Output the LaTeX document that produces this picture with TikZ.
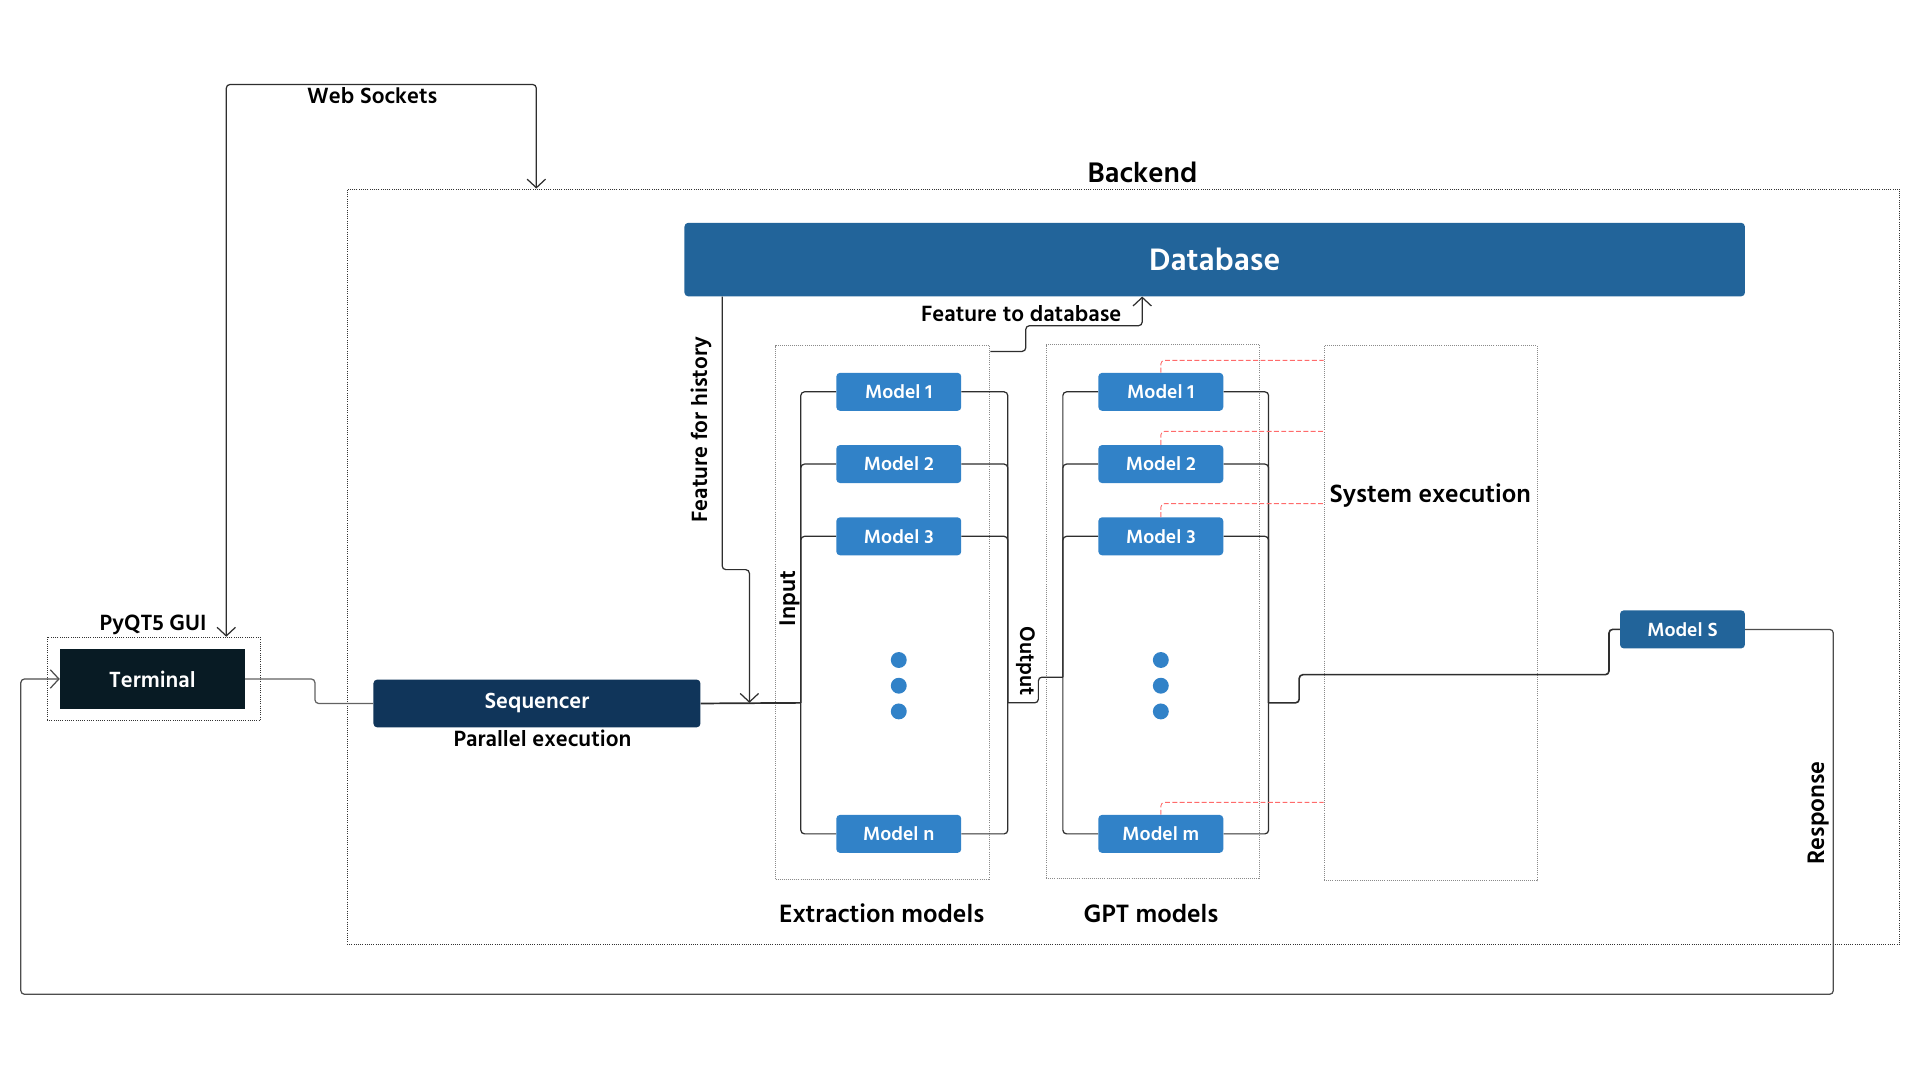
\documentclass[tikz,border=0pt]{standalone}
\usepackage{fontspec}
\setmainfont{Hind Madurai}
\usetikzlibrary{arrows.meta,calc}
\definecolor{lineC}{HTML}{2E2E2E}
\definecolor{termC}{HTML}{081B24}
\definecolor{seqC}{HTML}{10355A}
\definecolor{dbC}{HTML}{22649A}
\definecolor{modC}{HTML}{3182C8}
\definecolor{redC}{HTML}{FF6B6B}
\definecolor{frameC}{HTML}{8A8A8A}
\newcommand{\fsz}[1]{\bfseries\fontsize{#1}{#1}\selectfont}
\tikzset{
  modelbox/.style={rectangle, rounded corners=3pt, fill=modC, text=white,
    font=\fsz{16}, minimum width=102pt, minimum height=31pt, inner sep=0pt},
  framebox/.style={rectangle, draw=frameC, densely dotted, line width=0.7pt, anchor=north west, inner sep=0pt},
  conn/.style={draw=lineC, line width=1pt, rounded corners=3pt},
  tip/.style={-{Straight Barb[length=7pt,width=15pt,line width=1pt]}},
  tips/.style={{Straight Barb[length=7pt,width=15pt,line width=1pt]}-{Straight Barb[length=7pt,width=15pt,line width=1pt]}},
  lbl/.style={font=\fsz{18.5}, text=black, inner sep=0pt},
  reddash/.style={draw=redC, dashed, dash pattern=on 4pt off 2pt, line width=0.7pt, rounded corners=3pt},
  dot/.style={circle, fill=modC, minimum size=13pt, inner sep=0pt}
}
\begin{document}
\begin{tikzpicture}[x=1pt,y=-1pt]
\useasboundingbox (0,0) rectangle (1568,882);
\fill[white] (0,0) rectangle (1568,882);

% frames
\node[framebox, draw=black!80, line width=0.8pt, minimum width=1268pt, minimum height=617pt] (backend) at (283,154) {};
\node[lbl, font=\fsz{23.7}] (backendl) at (933,141) {Backend};
\node[framebox, draw=black!80, line width=0.8pt, minimum width=174pt, minimum height=68pt] (gui) at (38,520) {};
\node[lbl] (guil) at (125,510) {PyQT5 GUI};
\node[framebox, minimum width=175pt, minimum height=436pt] (extr) at (633,282) {};
\node[framebox, minimum width=174pt, minimum height=436pt] (gpt) at (854,281) {};
\node[framebox, minimum width=174pt, minimum height=437pt] (sys) at (1081,282) {};
\node[lbl, font=\fsz{21}] (sysl) at (1168,405) {System execution};
\node[lbl, font=\fsz{21}] (extrl) at (720,746) {Extraction models};
\node[lbl, font=\fsz{21}] (gptl) at (940,746) {GPT models};

% main boxes
\node[rectangle, fill=termC, text=white, font=\fsz{18.4},
  minimum width=151pt, minimum height=49pt, inner sep=0pt] (term) at (124.5,554.5) {Terminal};
\node[rectangle, rounded corners=3pt, fill=seqC, text=white, font=\fsz{18.4},
  minimum width=267pt, minimum height=39pt, inner sep=0pt] (seq) at (438.5,574.5) {Sequencer};
\node[lbl] (parl) at (443,603) {Parallel execution};
\node[rectangle, rounded corners=3pt, fill=dbC, text=white, font=\fsz{26},
  minimum width=866pt, minimum height=60pt, inner sep=0pt] (db) at (992,212) {Database};

% extraction models
\node[modelbox] (e1) at (734,320) {Model 1};
\node[modelbox] (e2) at (734,379) {Model 2};
\node[modelbox] (e3) at (734,438) {Model 3};
\node[modelbox] (en) at (734,681) {Model n};
\node[dot] (ed1) at (734,539) {};
\node[dot] (ed2) at (734,560) {};
\node[dot] (ed3) at (734,581) {};

% gpt models
\node[modelbox] (g1) at (948,320) {Model 1};
\node[modelbox] (g2) at (948,379) {Model 2};
\node[modelbox] (g3) at (948,438) {Model 3};
\node[modelbox] (gm) at (948,681) {Model m};
\node[dot] (gd1) at (948,539) {};
\node[dot] (gd2) at (948,560) {};
\node[dot] (gd3) at (948,581) {};

\node[modelbox, fill=dbC] (ms) at (1374,514) {Model S};

% coordinates
\coordinate (inL) at (654,574);
\coordinate (fh) at (612,574);
\coordinate (outR) at (823,574);
\coordinate (gL) at (868,553);
\coordinate (gR) at (1036,574);
\coordinate (retC) at (17,812);

% terminal to sequencer
\draw[conn, draw=lineC!75] (term.east) -- ++(57,0) |- (seq.west);
\draw[conn, line width=1.4pt] (seq.east) -- (inL);

% extraction buses
\foreach \m in {e1,e2,e3,en} {
  \draw[conn] (inL) |- (\m.west);
  \draw[conn] (\m.east) -| (outR);
}
\draw[conn] (outR) -- ++(25,0) |- (gL);
\foreach \m in {g1,g2,g3,gm} {
  \draw[conn] (gL) |- (\m.west);
  \draw[conn] (\m.east) -| (gR);
}
\draw[conn, line width=1.3pt] (gR) -- ++(25,0) -- ++(0,-23) -- ++(253,0) |- (ms.west);

% red dashed to system execution
\draw[reddash] (g1.north) -- ++(0,-10) coordinate (r1) -- (r1 -| sys.west);
\draw[reddash] (g2.north) -- ++(0,-11) coordinate (r2) -- (r2 -| sys.west);
\draw[reddash] (g3.north) -- ++(0,-11) coordinate (r3) -- (r3 -| sys.west);
\draw[reddash] (gm.north) -- ++(0,-10) coordinate (r4) -- (r4 -| sys.west);

% labels on buses
\node[lbl, font=\fsz{19}, rotate=90] (inl) at (645,489) {Input};
\node[lbl, font=\fsz{17.6}, rotate=-90] (outl) at (838,540) {Output};

% feature for history
\draw[conn, tip] ($(db.south west)+(31,0)$) -- ++(0,223) -| (fh);
\node[lbl, rotate=90] (fhl) at (573,351) {Feature for history};

% feature to database
\draw[conn, tip] ($(extr.north east)+(0,5)$) -- ++(29,0) -- ++(0,-21) -| ($(db.south west)+(374,0)$);
\node[lbl] (ftdl) at (834,256) {Feature to database};

% web sockets
\draw[conn, tips] ($(gui.north east)+(-28,0)$) -- ++(0,-451) -| ($(backend.north west)+(155,0)$);
\node[lbl] (wsl) at (304,78) {Web Sockets};

% response
\draw[conn, tip, draw=lineC!85] (ms.east) -- ++(72,0) |- (retC) |- (term.west);
\node[lbl, font=\fsz{20}, rotate=90] (respl) at (1485,664) {Response};
\end{tikzpicture}
\end{document}
